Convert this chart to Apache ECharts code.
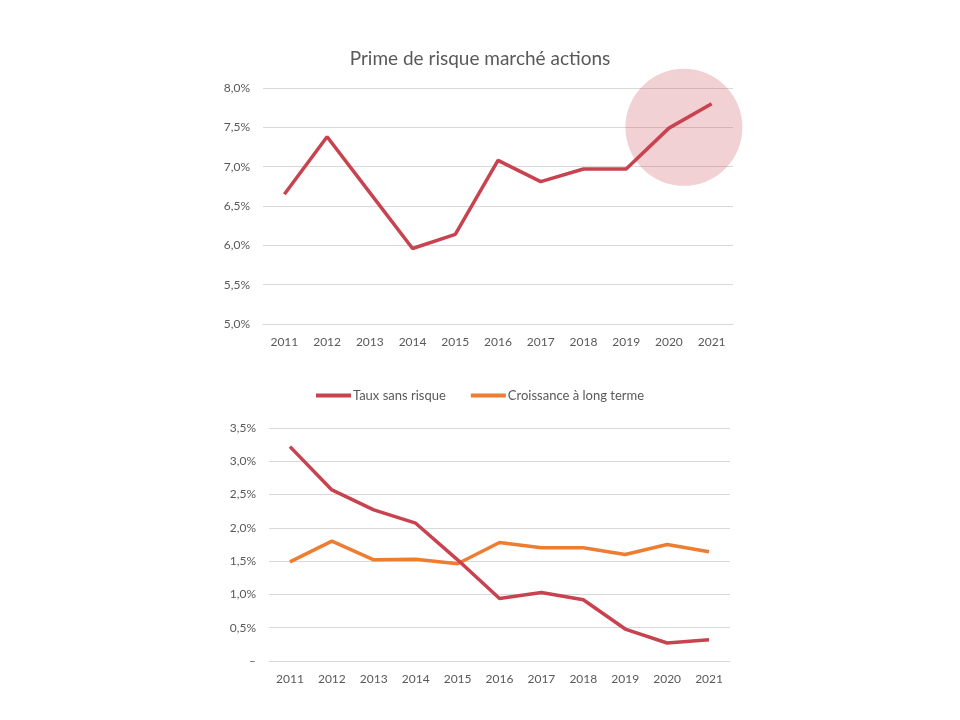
<!DOCTYPE html>
<html>
<head>
    <meta charset="UTF-8">
    <title>Prime de risque marché actions</title>
    <style>
        html, body { margin: 0; padding: 0; background: #fff; }
        #container { width: 960px; height: 720px; }
    </style>
</head>
<body>
    <div id="container"></div>
    <script src="https://cdn.jsdelivr.net/npm/echarts@6/dist/echarts.min.js"></script>
    <script>
        // données (en %)
        var years = ['2011', '2012', '2013', '2014', '2015', '2016', '2017', '2018', '2019', '2020', '2021'];
        var primeRisque = [6.65, 7.38, 6.67, 5.96, 6.14, 7.08, 6.81, 6.97, 6.97, 7.49, 7.80];
        var tauxSansRisque = [3.22, 2.57, 2.27, 2.07, 1.52, 0.94, 1.03, 0.92, 0.48, 0.27, 0.32];
        var croissance = [1.49, 1.80, 1.52, 1.53, 1.46, 1.78, 1.70, 1.70, 1.60, 1.75, 1.64];
        // zone mise en évidence (cercle) autour de 2020-2021
        var highlight = [['2020', 7.5]];

        var RED = '#C8434F';
        var ORANGE = '#ED7D31';
        var GREY = '#595959';
        var FONT = 'Lato';

        function pct(v) {
            if (v === 0) return '–';
            return v.toFixed(1).replace('.', ',') + '%';
        }

        var myChart = echarts.init(document.getElementById('container'));
        myChart.setOption({
            backgroundColor: '#fff',
            textStyle: { fontFamily: FONT },
            title: {
                text: 'Prime de risque marché actions',
                left: 'center',
                top: 44,
                textStyle: { color: GREY, fontSize: 19, fontWeight: 'normal', fontFamily: FONT }
            },
            legend: {
                data: ['Taux sans risque', 'Croissance à long terme'],
                top: 384,
                left: 'center',
                icon: 'rect',
                itemWidth: 35,
                itemHeight: 4,
                itemGap: 25,
                textStyle: { color: GREY, fontSize: 13, fontFamily: FONT, padding: [0, 0, 0, -3] }
            },
            grid: [
                { left: 263, right: 227, top: 88, bottom: 396 },
                { left: 269, right: 230, top: 428, bottom: 59 }
            ],
            xAxis: [0, 1].map(function (i) {
                return {
                    type: 'category',
                    gridIndex: i,
                    data: years,
                    axisLine: { lineStyle: { color: '#D9D9D9' } },
                    axisTick: { show: false },
                    axisLabel: { color: GREY, fontSize: 12, margin: 12, fontFamily: FONT }
                };
            }),
            yAxis: [
                { type: 'value', gridIndex: 0, min: 5, max: 8, interval: 0.5 },
                { type: 'value', gridIndex: 1, min: 0, max: 3.5, interval: 0.5 }
            ].map(function (a) {
                a.axisLine = { show: false };
                a.axisTick = { show: false };
                a.splitLine = { lineStyle: { color: '#D9D9D9' } };
                a.axisLabel = { color: GREY, fontSize: 12, margin: 13, formatter: pct, fontFamily: FONT };
                return a;
            }),
            series: [
                {
                    name: 'Zone',
                    type: 'scatter',
                    xAxisIndex: 0,
                    yAxisIndex: 0,
                    data: highlight,
                    symbolSize: 117,
                    symbolOffset: [15, 0],
                    itemStyle: { color: 'rgba(200, 65, 80, 0.3)' },
                    silent: true,
                    z: 1
                },
                {
                    name: 'Prime de risque',
                    type: 'line',
                    xAxisIndex: 0,
                    yAxisIndex: 0,
                    data: primeRisque,
                    symbol: 'none',
                    lineStyle: { color: RED, width: 3.5 },
                    itemStyle: { color: RED },
                    z: 3
                },
                {
                    name: 'Taux sans risque',
                    type: 'line',
                    xAxisIndex: 1,
                    yAxisIndex: 1,
                    data: tauxSansRisque,
                    symbol: 'none',
                    lineStyle: { color: RED, width: 3.5 },
                    itemStyle: { color: RED },
                    z: 3
                },
                {
                    name: 'Croissance à long terme',
                    type: 'line',
                    xAxisIndex: 1,
                    yAxisIndex: 1,
                    data: croissance,
                    symbol: 'none',
                    lineStyle: { color: ORANGE, width: 3.5 },
                    itemStyle: { color: ORANGE },
                    z: 2
                }
            ]
        });
    </script>
</body>
</html>
